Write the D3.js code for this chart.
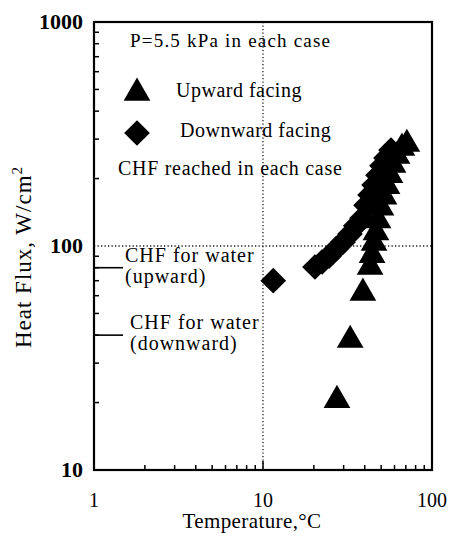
<!DOCTYPE html>
<html><head><meta charset="utf-8">
<script src="https://cdn.jsdelivr.net/npm/d3@7"></script>
<style>body{margin:0;background:#fff}svg{display:block}text{font-family:"Liberation Serif","Times New Roman",serif;fill:#000}</style>
</head><body><svg id="c" width="455" height="542"></svg>
<script>
// Data
const upwardTemp = [27.4, 32.8, 39, 43, 44.2, 45.4, 46.6, 47.9, 49.9, 52, 54.2, 56.4, 58.8, 62.1, 66.4, 71];
const upwardFlux = [20.5, 38, 61.7, 80.6, 91, 103, 115, 130, 148, 166, 185, 207, 230, 252, 274, 285];
const downwardTemp = [11.5, 20.3, 22.4, 24.6, 27, 29.7, 32.7, 35.4, 38.5, 40.7, 43, 45.4, 47.9, 50.6, 53.4, 57.2];
const downwardFlux = [70, 80.6, 85, 90, 97, 104, 113, 123, 133, 152, 169, 187, 207, 228, 247, 268];
const xTickLabels = ["1", "10", "100"];
const xTickValues = [1, 10, 100];
const yTickLabels = ["10", "100", "1000"];
const yTickValues = [10, 100, 1000];
const waterCHF = [{label: ["CHF for water", "(upward)"], value: 80, dx: 31}, {label: ["CHF for water", "(downward)"], value: 40, dx: 36}];

const svg = d3.select("#c");
const L = 94, R = 432, T = 22, B = 470;
const x = d3.scaleLog().domain([1, 100]).range([L, R]);
const y = d3.scaleLog().domain([10, 1000]).range([B, T]);

// dotted reference lines
svg.append("line").attr("x1", x(10)).attr("x2", x(10)).attr("y1", T).attr("y2", B)
  .attr("stroke", "#222").attr("stroke-width", 1.3).attr("stroke-dasharray", "1.3,2.2");
svg.append("line").attr("x1", L).attr("x2", R).attr("y1", y(100)).attr("y2", y(100))
  .attr("stroke", "#222").attr("stroke-width", 1.3).attr("stroke-dasharray", "1.3,2.2");

// minor ticks
const xMinor = [];
for (const d of [1, 10]) for (let k = 2; k <= 9; k++) xMinor.push(d * k);
svg.selectAll(".xm").data(xMinor).enter().append("line")
  .attr("x1", d => x(d)).attr("x2", d => x(d)).attr("y1", B).attr("y2", B - 5)
  .attr("stroke", "#000").attr("stroke-width", 1.5);
svg.append("line").attr("x1", x(10)).attr("x2", x(10)).attr("y1", B).attr("y2", B - 9)
  .attr("stroke", "#000").attr("stroke-width", 1.5);
const yMinor = [];
for (const d of [10, 100]) for (let k = 2; k <= 9; k++) yMinor.push(d * k);
svg.selectAll(".ym").data(yMinor).enter().append("line")
  .attr("x1", L).attr("x2", L + 5).attr("y1", d => y(d)).attr("y2", d => y(d))
  .attr("stroke", "#000").attr("stroke-width", 1.5);

// frame
svg.append("rect").attr("x", L).attr("y", T).attr("width", R - L).attr("height", B - T)
  .attr("fill", "none").attr("stroke", "#000").attr("stroke-width", 2.2);

// tick labels
svg.selectAll(".xl").data(xTickValues).enter().append("text")
  .attr("x", (d) => x(d)).attr("y", 507).attr("text-anchor", "middle")
  .attr("font-size", 20).text((d, i) => xTickLabels[i]);
svg.selectAll(".yl").data(yTickValues).enter().append("text")
  .attr("x", 83).attr("y", d => y(d) + 7).attr("text-anchor", "end")
  .attr("font-size", 22).attr("font-weight", "bold").text((d, i) => yTickLabels[i]);

// axis titles
svg.append("text").attr("x", 252).attr("y", 528).attr("text-anchor", "middle")
  .attr("font-size", 21).attr("letter-spacing", 0.4).text("Temperature,°C");
const yt = svg.append("text").attr("transform", "translate(31,257) rotate(-90)")
  .attr("text-anchor", "middle").attr("font-size", 23).attr("letter-spacing", 1);
yt.append("tspan").text("Heat Flux, W/cm");
yt.append("tspan").attr("dy", -9).attr("font-size", 15).text("2");

// water CHF markers
waterCHF.forEach(w => {
  const yy = y(w.value);
  svg.append("line").attr("x1", L).attr("x2", L + 29).attr("y1", yy).attr("y2", yy)
    .attr("stroke", "#000").attr("stroke-width", 1.6);
  const t = svg.append("text").attr("font-size", 20).attr("letter-spacing", 1);
  t.append("tspan").attr("x", L + w.dx).attr("y", yy - 6).text(w.label[0]);
  t.append("tspan").attr("x", L + w.dx).attr("y", yy + 15).text(w.label[1]);
});

// data points
const tri = d3.symbol().type(d3.symbolTriangle).size(310);
const dia = d3.symbol().type(d3.symbolSquare).size(330);
svg.selectAll(".tri").data(upwardTemp.map((t, i) => [t, upwardFlux[i]])).enter().append("path")
  .attr("d", tri).attr("transform", d => `translate(${x(d[0])},${y(d[1])})`).attr("fill", "#000");
svg.selectAll(".dia").data(downwardTemp.map((t, i) => [t, downwardFlux[i]])).enter().append("path")
  .attr("d", dia).attr("transform", d => `translate(${x(d[0])},${y(d[1])}) rotate(45)`).attr("fill", "#000");

// annotations / legend
svg.append("text").attr("x", 130).attr("y", 47).attr("font-size", 19).attr("letter-spacing", 1.2).text("P=5.5 kPa in each case");
svg.append("path").attr("d", tri).attr("transform", "translate(137,93)").attr("fill", "#000");
svg.append("text").attr("x", 176).attr("y", 97).attr("font-size", 20).attr("letter-spacing", 0.5).text("Upward facing");
svg.append("path").attr("d", dia).attr("transform", "translate(137,133) rotate(45)").attr("fill", "#000");
svg.append("text").attr("x", 180).attr("y", 137).attr("font-size", 20).attr("letter-spacing", 0.5).text("Downward facing");
svg.append("text").attr("x", 118).attr("y", 175).attr("font-size", 20).attr("letter-spacing", 0.7).text("CHF reached in each case");
</script></body></html>
